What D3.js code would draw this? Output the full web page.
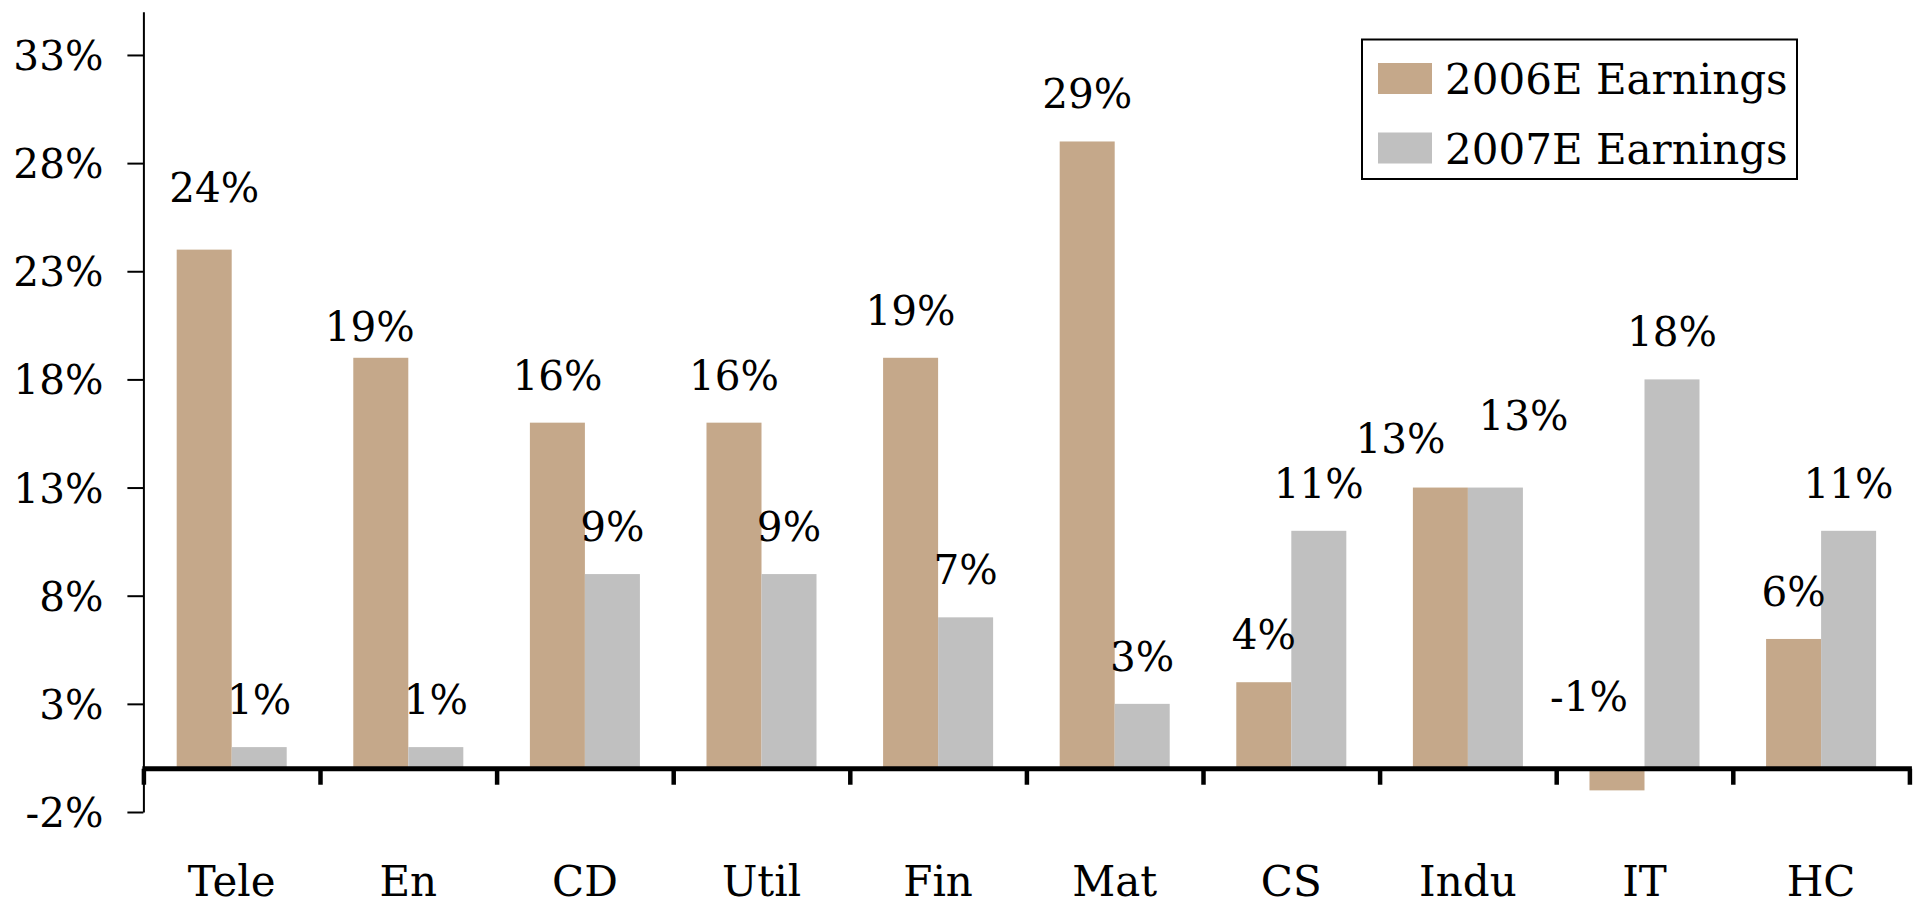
<!DOCTYPE html>
<html>
<head>
<meta charset="utf-8">
<script src="https://cdn.jsdelivr.net/npm/d3@7"></script>
<style>
  html, body { margin: 0; padding: 0; background: #fff; }
  svg { display: block; }
  text { font-family: "DejaVu Serif", "Liberation Serif", serif; fill: #000; }
</style>
</head>
<body>
<svg id="chart" width="1923" height="907"></svg>
<script>
// Sector earnings growth estimates (%)
const categories = ["Tele", "En", "CD", "Util", "Fin", "Mat", "CS", "Indu", "IT", "HC"];
const earnings2006 = [24, 19, 16, 16, 19, 29, 4, 13, -1, 6];
const earnings2007 = [1, 1, 9, 9, 7, 3, 11, 13, 18, 11];
const seriesNames = ["2006E Earnings", "2007E Earnings"];
const seriesColors = ["#C5A88A", "#C0C0C0"];
const yTickValues = [-2, 3, 8, 13, 18, 23, 28, 33];

// Hand-placed value labels that sit off the default spot above their bar: [dx, dy]
const labelNudge = {
  "Tele|0": [10, -15],
  "En|0": [-11, 16],
  "Indu|0": [-40, -2],
  "Indu|1": [28, -25],
  "IT|0": [-28, -25]
};

const svg = d3.select("#chart");
const left = 143.4, right = 1909.4;

const y = d3.scaleLinear().domain([-2, 35]).range([812, 11.7]);

const x0 = d3.scaleBand()
  .domain(categories)
  .range([left, right])
  .paddingInner(0.377)
  .paddingOuter(0.1885);

const x1 = d3.scaleBand()
  .domain([0, 1])
  .range([0, x0.bandwidth()]);

const rows = categories.map((c, i) => ({
  cat: c,
  values: [earnings2006[i], earnings2007[i]]
}));

// Bars
const groups = svg.append("g").selectAll("g")
  .data(rows)
  .join("g")
  .attr("transform", d => `translate(${x0(d.cat)},0)`);

groups.selectAll("rect")
  .data(d => d.values.map((v, s) => ({ cat: d.cat, v, s })))
  .join("rect")
  .attr("x", d => x1(d.s))
  .attr("width", x1.bandwidth())
  .attr("y", d => y(Math.max(0, d.v)))
  .attr("height", d => Math.abs(y(d.v) - y(0)))
  .attr("fill", d => seriesColors[d.s]);

// Value labels
groups.selectAll("text.val")
  .data(d => d.values.map((v, s) => ({ cat: d.cat, v, s })))
  .join("text")
  .attr("class", "val")
  .attr("text-anchor", "middle")
  .attr("font-size", 40.5)
  .attr("x", d => x1(d.s) + x1.bandwidth() / 2 + (labelNudge[d.cat + "|" + d.s] || [0, 0])[0])
  .attr("y", d => y(Math.max(0, d.v)) - 33 + (labelNudge[d.cat + "|" + d.s] || [0, 0])[1])
  .text(d => d.v + "%");

// Y axis
const yAxis = svg.append("g")
  .attr("transform", `translate(${left},0)`)
  .call(d3.axisLeft(y)
    .tickValues(yTickValues)
    .tickFormat(d => d + "%")
    .tickSize(16)
    .tickSizeOuter(0)
    .tickPadding(24));
yAxis.select(".domain").attr("stroke", "#000").attr("stroke-width", 2);
yAxis.selectAll(".tick line").attr("stroke", "#000").attr("stroke-width", 2);
yAxis.selectAll(".tick text")
  .attr("font-family", "DejaVu Serif, Liberation Serif, serif")
  .attr("font-size", 40.5)
  .attr("fill", "#000")
  .attr("dy", "0.36em");

// X axis: thick zero line with tick marks at category boundaries
const xEdge = d3.scaleLinear().domain([0, categories.length]).range([left, right]);
const xAxis = svg.append("g")
  .attr("transform", `translate(0,${y(0)})`)
  .call(d3.axisBottom(xEdge)
    .tickValues(d3.range(categories.length + 1))
    .tickFormat("")
    .tickSize(16)
    .tickSizeOuter(0));
xAxis.select(".domain").attr("stroke", "#000").attr("stroke-width", 5)
  .attr("d", `M${left - 1},0H${right + 2.5}`);
xAxis.selectAll(".tick line").attr("stroke", "#000").attr("stroke-width", 4.5);

// Category labels
const catAxis = svg.append("g")
  .attr("transform", `translate(0,${y(0)})`)
  .call(d3.axisBottom(x0).tickSize(0).tickSizeOuter(0));
catAxis.select(".domain").remove();
catAxis.selectAll(".tick text")
  .attr("font-family", "DejaVu Serif, Liberation Serif, serif")
  .attr("font-size", 42)
  .attr("fill", "#000")
  .attr("y", 896 - y(0))
  .attr("dy", 0);

// Legend
const legend = svg.append("g");
legend.append("rect")
  .attr("x", 1362).attr("y", 39.5)
  .attr("width", 435).attr("height", 139.5)
  .attr("fill", "#fff").attr("stroke", "#000").attr("stroke-width", 2);
const items = legend.selectAll("g.item")
  .data(seriesNames)
  .join("g")
  .attr("class", "item")
  .attr("transform", (d, i) => `translate(1378,${63 + i * 69.5})`);
items.append("rect")
  .attr("width", 54).attr("height", 31)
  .attr("fill", (d, i) => seriesColors[i]);
items.append("text")
  .attr("x", 67).attr("y", 31)
  .attr("font-size", 42)
  .text(d => d);
</script>
</body>
</html>
